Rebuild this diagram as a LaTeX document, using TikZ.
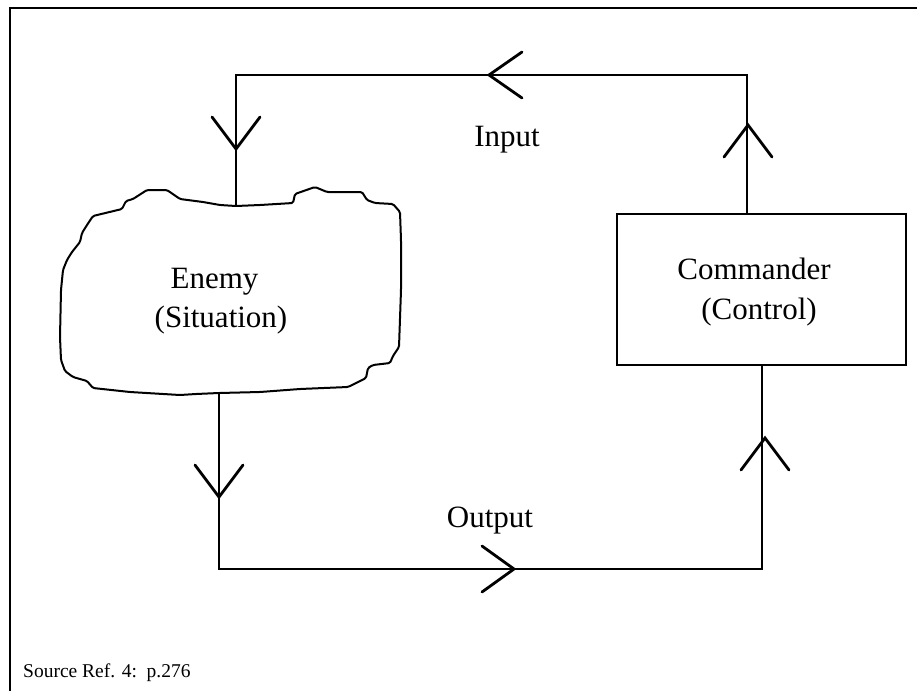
\documentclass[tikz,border=0pt]{standalone}
\usepackage{fontspec}
\setmainfont{Liberation Serif}
\tikzset{
  x=1pt, y=-1pt,
  frameline/.style={line width=2pt},
  conn/.style={line width=1.4pt},
  headline/.style={line width=2.8pt, line cap=round, line join=miter},
  cloudline/.style={line width=2pt, rounded corners=1.5pt, line join=round},
  cmdbox/.style={draw, line width=1.5pt, minimum width=289pt, minimum height=151pt, inner sep=0pt},
  lbl/.style={font=\fontsize{31}{40}\selectfont, inner sep=0pt},
  src/.style={font=\fontsize{19.5}{21}\selectfont, inner sep=0pt, anchor=base west},
  vdown/.pic={\draw[headline] (-24,-32) -- (0,0) -- (24,-32);},
  vup/.pic={\draw[headline] (-24,32) -- (0,0) -- (24,32);},
  vleft/.pic={\draw[headline] (33,-23) -- (0,0) -- (33,23);},
  vright/.pic={\draw[headline] (-32,-23) -- (0,0) -- (-32,23);}
}
\begin{document}
\begin{tikzpicture}
\useasboundingbox (0,0) rectangle (917,691);
% frame (only top and left edges visible)
\draw[frameline] (10,691) -- (10,7.5) -- (917,7.5);

% enemy cloud
\draw[cloudline] (236,206) -- (260,205) -- (293,203) -- (295,194) -- (315,187) -- (327,192) -- (362,192) -- (367,200) -- (375,203) -- (393,204) -- (400,212) -- (401,240) -- (401,290) -- (399,347) -- (393,356) -- (390,363) -- (373,365) -- (368,368) -- (366,378) -- (358,382) -- (348,387) -- (300,389) -- (260,392) -- (219,393) -- (196,394) -- (180,395) -- (130,392) -- (93,388) -- (87,381) -- (73,377) -- (65,371) -- (61,360) -- (60,337) -- (61,290) -- (63,270) -- (67,260) -- (72,252) -- (80,242) -- (82,233) -- (87,225) -- (93,216) -- (122,209) -- (126,201) -- (133,199) -- (147,190) -- (167,190) -- (180,199) -- (203,202) -- (220,205) -- cycle;
\coordinate (cloudtop) at (236,206);
\coordinate (cloudbot) at (219,393);
\node[lbl, anchor=base] (enemy) at (214.5,288) {Enemy};
\node[lbl, anchor=base] (situation) at (221,327) {(Situation)};

% commander box
\node[cmdbox] (cmd) at (761.5,289.5) {};
\node[lbl, anchor=base] (commander) at (754,279) {Commander};
\node[lbl, anchor=base] (control) at (759,319) {(Control)};

% connectors
\coordinate (tr) at (747,75);
\coordinate (tl) at (236,75);
\coordinate (bl) at (219,569);
\coordinate (br) at (762,569);
\draw[conn] (cmd.north -| tr) -- (tr) -- (tl) -- (cloudtop);
\draw[conn] (cloudbot) -- (bl) -- (br) -- (cmd.south -| br);

% arrow heads
\pic at (236,149) {vdown};
\pic at (489,75) {vleft};
\pic at (748,125) {vup};
\pic at (219,497) {vdown};
\pic at (514,569) {vright};
\pic at (765,438) {vup};

% labels
\node[lbl, anchor=base] (input) at (507,146) {Input};
\node[lbl, anchor=base] (output) at (490,527) {Output};
\node[src] (source) at (23,677) {Source Ref. 4:\ \ p.276};
\end{tikzpicture}
\end{document}
